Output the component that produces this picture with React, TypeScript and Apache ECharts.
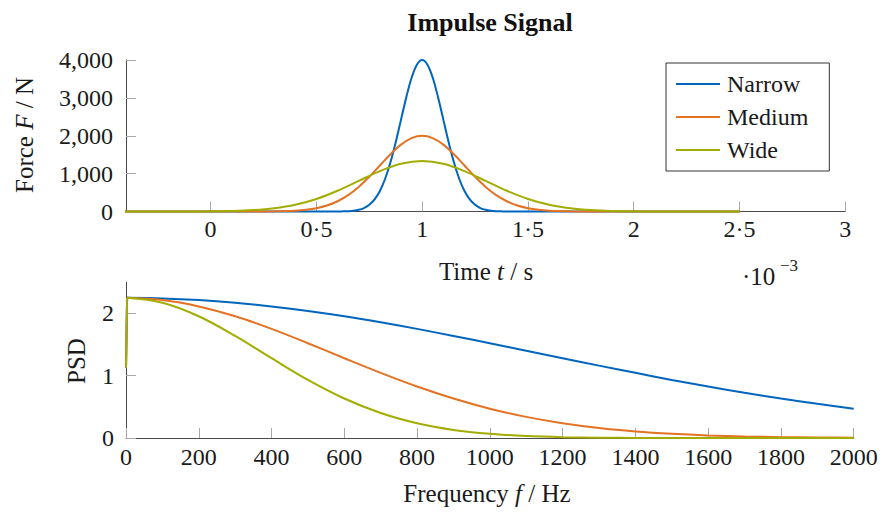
import React, { useEffect, useRef } from 'react';
import * as echarts from 'echarts';

// ---- Top plot: force pulses (time in ms, shown with ·10^-3) ----
const narrowTime = [-0.5, 0.6, 0.625, 0.65, 0.675, 0.7, 0.725, 0.75, 0.775, 0.8, 0.825, 0.85, 0.875, 0.9, 0.925, 0.95, 0.975, 1, 1.025, 1.05, 1.075, 1.1, 1.125, 1.15, 1.175, 1.2, 1.225, 1.25, 1.275, 1.3, 1.325, 1.35, 1.375, 1.4, 2.5];
const narrowForce = [0, 1, 4, 9, 20, 44, 91, 176, 318, 541, 865, 1299, 1831, 2426, 3019, 3530, 3877, 4000, 3877, 3530, 3019, 2426, 1831, 1299, 865, 541, 318, 176, 91, 44, 20, 9, 4, 1, 0];

const mediumTime = [-0.5, 0.2, 0.25, 0.3, 0.35, 0.4, 0.45, 0.5, 0.55, 0.6, 0.65, 0.7, 0.75, 0.8, 0.85, 0.9, 0.95, 1, 1.05, 1.1, 1.15, 1.2, 1.25, 1.3, 1.35, 1.4, 1.45, 1.5, 1.55, 1.6, 1.65, 1.7, 1.75, 1.8, 2.5];
const mediumForce = [0, 1, 2, 4, 10, 22, 46, 88, 159, 271, 433, 649, 916, 1213, 1510, 1765, 1938, 2000, 1938, 1765, 1510, 1213, 916, 649, 433, 271, 159, 88, 46, 22, 10, 4, 2, 1, 0];

const wideTime = [-0.5, -0.1, 0, 0.1, 0.2, 0.3, 0.4, 0.5, 0.6, 0.7, 0.8, 0.9, 1, 1.1, 1.2, 1.3, 1.4, 1.5, 1.6, 1.7, 1.8, 1.9, 2, 2.1, 2.5];
const wideForce = [0, 2, 5, 15, 38, 88, 180, 332, 548, 808, 1067, 1261, 1333, 1261, 1067, 808, 548, 332, 180, 88, 38, 15, 5, 2, 0];

const timeTicks = [0, 0.5, 1, 1.5, 2, 2.5, 3];

// ---- Bottom plot: PSD ----
const freq = [0, 3, 100, 200, 300, 400, 500, 600, 700, 800, 900, 1000, 1100, 1200, 1300, 1400, 1500, 1600, 1700, 1800, 1900, 2000];
const narrowPSD = [1.13, 2.25, 2.241, 2.215, 2.172, 2.113, 2.04, 1.955, 1.858, 1.752, 1.639, 1.522, 1.402, 1.281, 1.162, 1.046, 0.933, 0.827, 0.727, 0.634, 0.549, 0.471];
const mediumPSD = [1.13, 2.25, 2.215, 2.113, 1.955, 1.752, 1.522, 1.281, 1.046, 0.827, 0.634, 0.471, 0.339, 0.237, 0.16, 0.105, 0.067, 0.041, 0.025, 0.014, 0.008, 0.004];
const widePSD = [1.13, 2.25, 2.172, 1.955, 1.639, 1.281, 0.933, 0.634, 0.401, 0.237, 0.13, 0.067, 0.032, 0.014, 0.006, 0.002, 0.001, 0, 0, 0, 0, 0];
const psdTicks = [0, 1, 2];

const names = ['Narrow', 'Medium', 'Wide'];
const colors = ['#0065BD', '#E37222', '#A2AD00'];

const FONT = '"Liberation Serif", "Times New Roman", serif';
const TXT = '#1a1a1a';
const AXIS = '#4a4a4a';
const TICK = '#a8a8a8';

const zip = (xs: number[], ys: number[]) => xs.map((x, i) => [x, ys[i]]);

export default function App() {
  const ref = useRef<HTMLDivElement>(null);
  useEffect(() => {
    if (!ref.current) return;
    const chart = echarts.init(ref.current, null, { renderer: 'svg' });

    const topSets = [
      [narrowTime, narrowForce],
      [mediumTime, mediumForce],
      [wideTime, wideForce],
    ];
    const psdSets = [narrowPSD, mediumPSD, widePSD];

    const series: any[] = [];
    topSets.forEach(([t, f], i) => {
      series.push({
        name: names[i],
        type: 'line',
        xAxisIndex: 0,
        yAxisIndex: 0,
        data: zip(t, f),
        symbol: 'none',
        smooth: 0.35,
        clip: false,
        lineStyle: { color: colors[i], width: 2 },
        itemStyle: { color: colors[i] },
      });
    });
    psdSets.forEach((p, i) => {
      series.push({
        name: names[i] + ' DC',
        type: 'line',
        xAxisIndex: 1,
        yAxisIndex: 1,
        data: zip(freq.slice(0, 2), p.slice(0, 2)),
        symbol: 'none',
        clip: false,
        lineStyle: { color: colors[i], width: 2 },
      });
      series.push({
        name: names[i] + ' PSD',
        type: 'line',
        xAxisIndex: 1,
        yAxisIndex: 1,
        data: zip(freq.slice(1), p.slice(1)),
        symbol: 'none',
        smooth: 0.35,
        clip: false,
        lineStyle: { color: colors[i], width: 2 },
      });
    });

    const labelStyle = { fontFamily: FONT, fontSize: 24, color: TXT };

    chart.setOption({
      animation: false,
      grid: [
        { left: 126, right: 36.7, top: 60, bottom: 301.5 },
        { left: 126, right: 28.3, top: 282.3, bottom: 75 },
      ],
      xAxis: [
        {
          type: 'value',
          gridIndex: 0,
          min: -0.4,
          max: 3,
          axisLine: { show: true, onZero: false, lineStyle: { color: AXIS, width: 1 } },
          axisTick: { show: true, inside: true, length: 10, customValues: timeTicks, lineStyle: { color: TICK } },
          axisLabel: {
            ...labelStyle,
            margin: 5,
            customValues: timeTicks,
            formatter: (v: number) => String(v).replace('.', '·'),
          },
          splitLine: { show: false },
        },
        {
          type: 'value',
          gridIndex: 1,
          min: 0,
          max: 2000,
          interval: 200,
          axisLine: { show: true, onZero: false, lineStyle: { color: AXIS, width: 1 } },
          axisTick: { show: true, inside: true, length: 10, lineStyle: { color: TICK } },
          axisLabel: { ...labelStyle, margin: 7, formatter: (v: number) => String(v) },
          splitLine: { show: false },
        },
      ],
      yAxis: [
        {
          type: 'value',
          gridIndex: 0,
          min: 0,
          max: 4000,
          interval: 1000,
          axisLine: { show: true, onZero: false, lineStyle: { color: AXIS, width: 1 } },
          axisTick: { show: true, inside: true, length: 10, lineStyle: { color: TICK } },
          axisLabel: {
            ...labelStyle,
            margin: 13,
            formatter: (v: number) => v.toLocaleString('en-US'),
          },
          splitLine: { show: false },
        },
        {
          type: 'value',
          gridIndex: 1,
          min: 0,
          max: 2.5,
          axisLine: { show: true, onZero: false, lineStyle: { color: AXIS, width: 1 } },
          axisTick: { show: true, inside: true, length: 10, customValues: psdTicks, lineStyle: { color: TICK } },
          axisLabel: { ...labelStyle, margin: 12, customValues: psdTicks, formatter: (v: number) => String(v) },
          splitLine: { show: false },
        },
      ],
      legend: {
        data: names,
        orient: 'vertical',
        left: 666,
        top: 63,
        icon: 'rect',
        itemWidth: 44,
        itemHeight: 2,
        itemGap: 9,
        padding: [9, 21, 9, 10],
        borderColor: '#333',
        borderWidth: 1,
        borderRadius: 0,
        backgroundColor: '#fff',
        textStyle: { fontFamily: FONT, fontSize: 24, color: TXT, lineHeight: 24, padding: [0, 0, 0, 2] },
      },
      graphic: [
        {
          type: 'text',
          x: 490,
          y: 22,
          style: {
            text: 'Impulse Signal',
            font: `bold 26px ${FONT}`,
            fill: '#111',
            textAlign: 'center',
            textVerticalAlign: 'middle',
          },
        },
        {
          type: 'text',
          x: 24,
          y: 135,
          rotation: Math.PI / 2,
          style: {
            text: '{n|Force }{i|F}{n| / N}',
            textAlign: 'center',
            textVerticalAlign: 'middle',
            fill: TXT,
            rich: {
              n: { fontFamily: FONT, fontSize: 25, fill: TXT },
              i: { fontFamily: FONT, fontSize: 25, fontStyle: 'italic', fill: TXT },
            },
          },
        },
        {
          type: 'text',
          x: 486,
          y: 271,
          style: {
            text: '{n|Time }{i|t}{n| / s}',
            textAlign: 'center',
            textVerticalAlign: 'middle',
            fill: TXT,
            rich: {
              n: { fontFamily: FONT, fontSize: 25, fill: TXT },
              i: { fontFamily: FONT, fontSize: 25, fontStyle: 'italic', fill: TXT },
            },
          },
        },
        {
          type: 'text',
          x: 742,
          y: 276,
          style: {
            text: '·10',
            font: `25px ${FONT}`,
            fill: TXT,
            textAlign: 'left',
            textVerticalAlign: 'middle',
          },
        },
        {
          type: 'text',
          x: 780,
          y: 265,
          style: {
            text: '−3',
            font: `17px ${FONT}`,
            fill: TXT,
            textAlign: 'left',
            textVerticalAlign: 'middle',
          },
        },
        {
          type: 'text',
          x: 76,
          y: 361,
          rotation: Math.PI / 2,
          style: {
            text: 'PSD',
            font: `25px ${FONT}`,
            fill: TXT,
            textAlign: 'center',
            textVerticalAlign: 'middle',
          },
        },
        {
          type: 'text',
          x: 487,
          y: 493,
          style: {
            text: '{n|Frequency }{i|f}{n| / Hz}',
            textAlign: 'center',
            textVerticalAlign: 'middle',
            fill: TXT,
            rich: {
              n: { fontFamily: FONT, fontSize: 25, fill: TXT },
              i: { fontFamily: FONT, fontSize: 25, fontStyle: 'italic', fill: TXT },
            },
          },
        },
      ],
      series,
    });

    return () => chart.dispose();
  }, []);

  return (
    <div
      ref={ref}
      style={{ position: 'absolute', left: 0, top: 0, width: 882, height: 513, background: '#fff' }}
    />
  );
}
